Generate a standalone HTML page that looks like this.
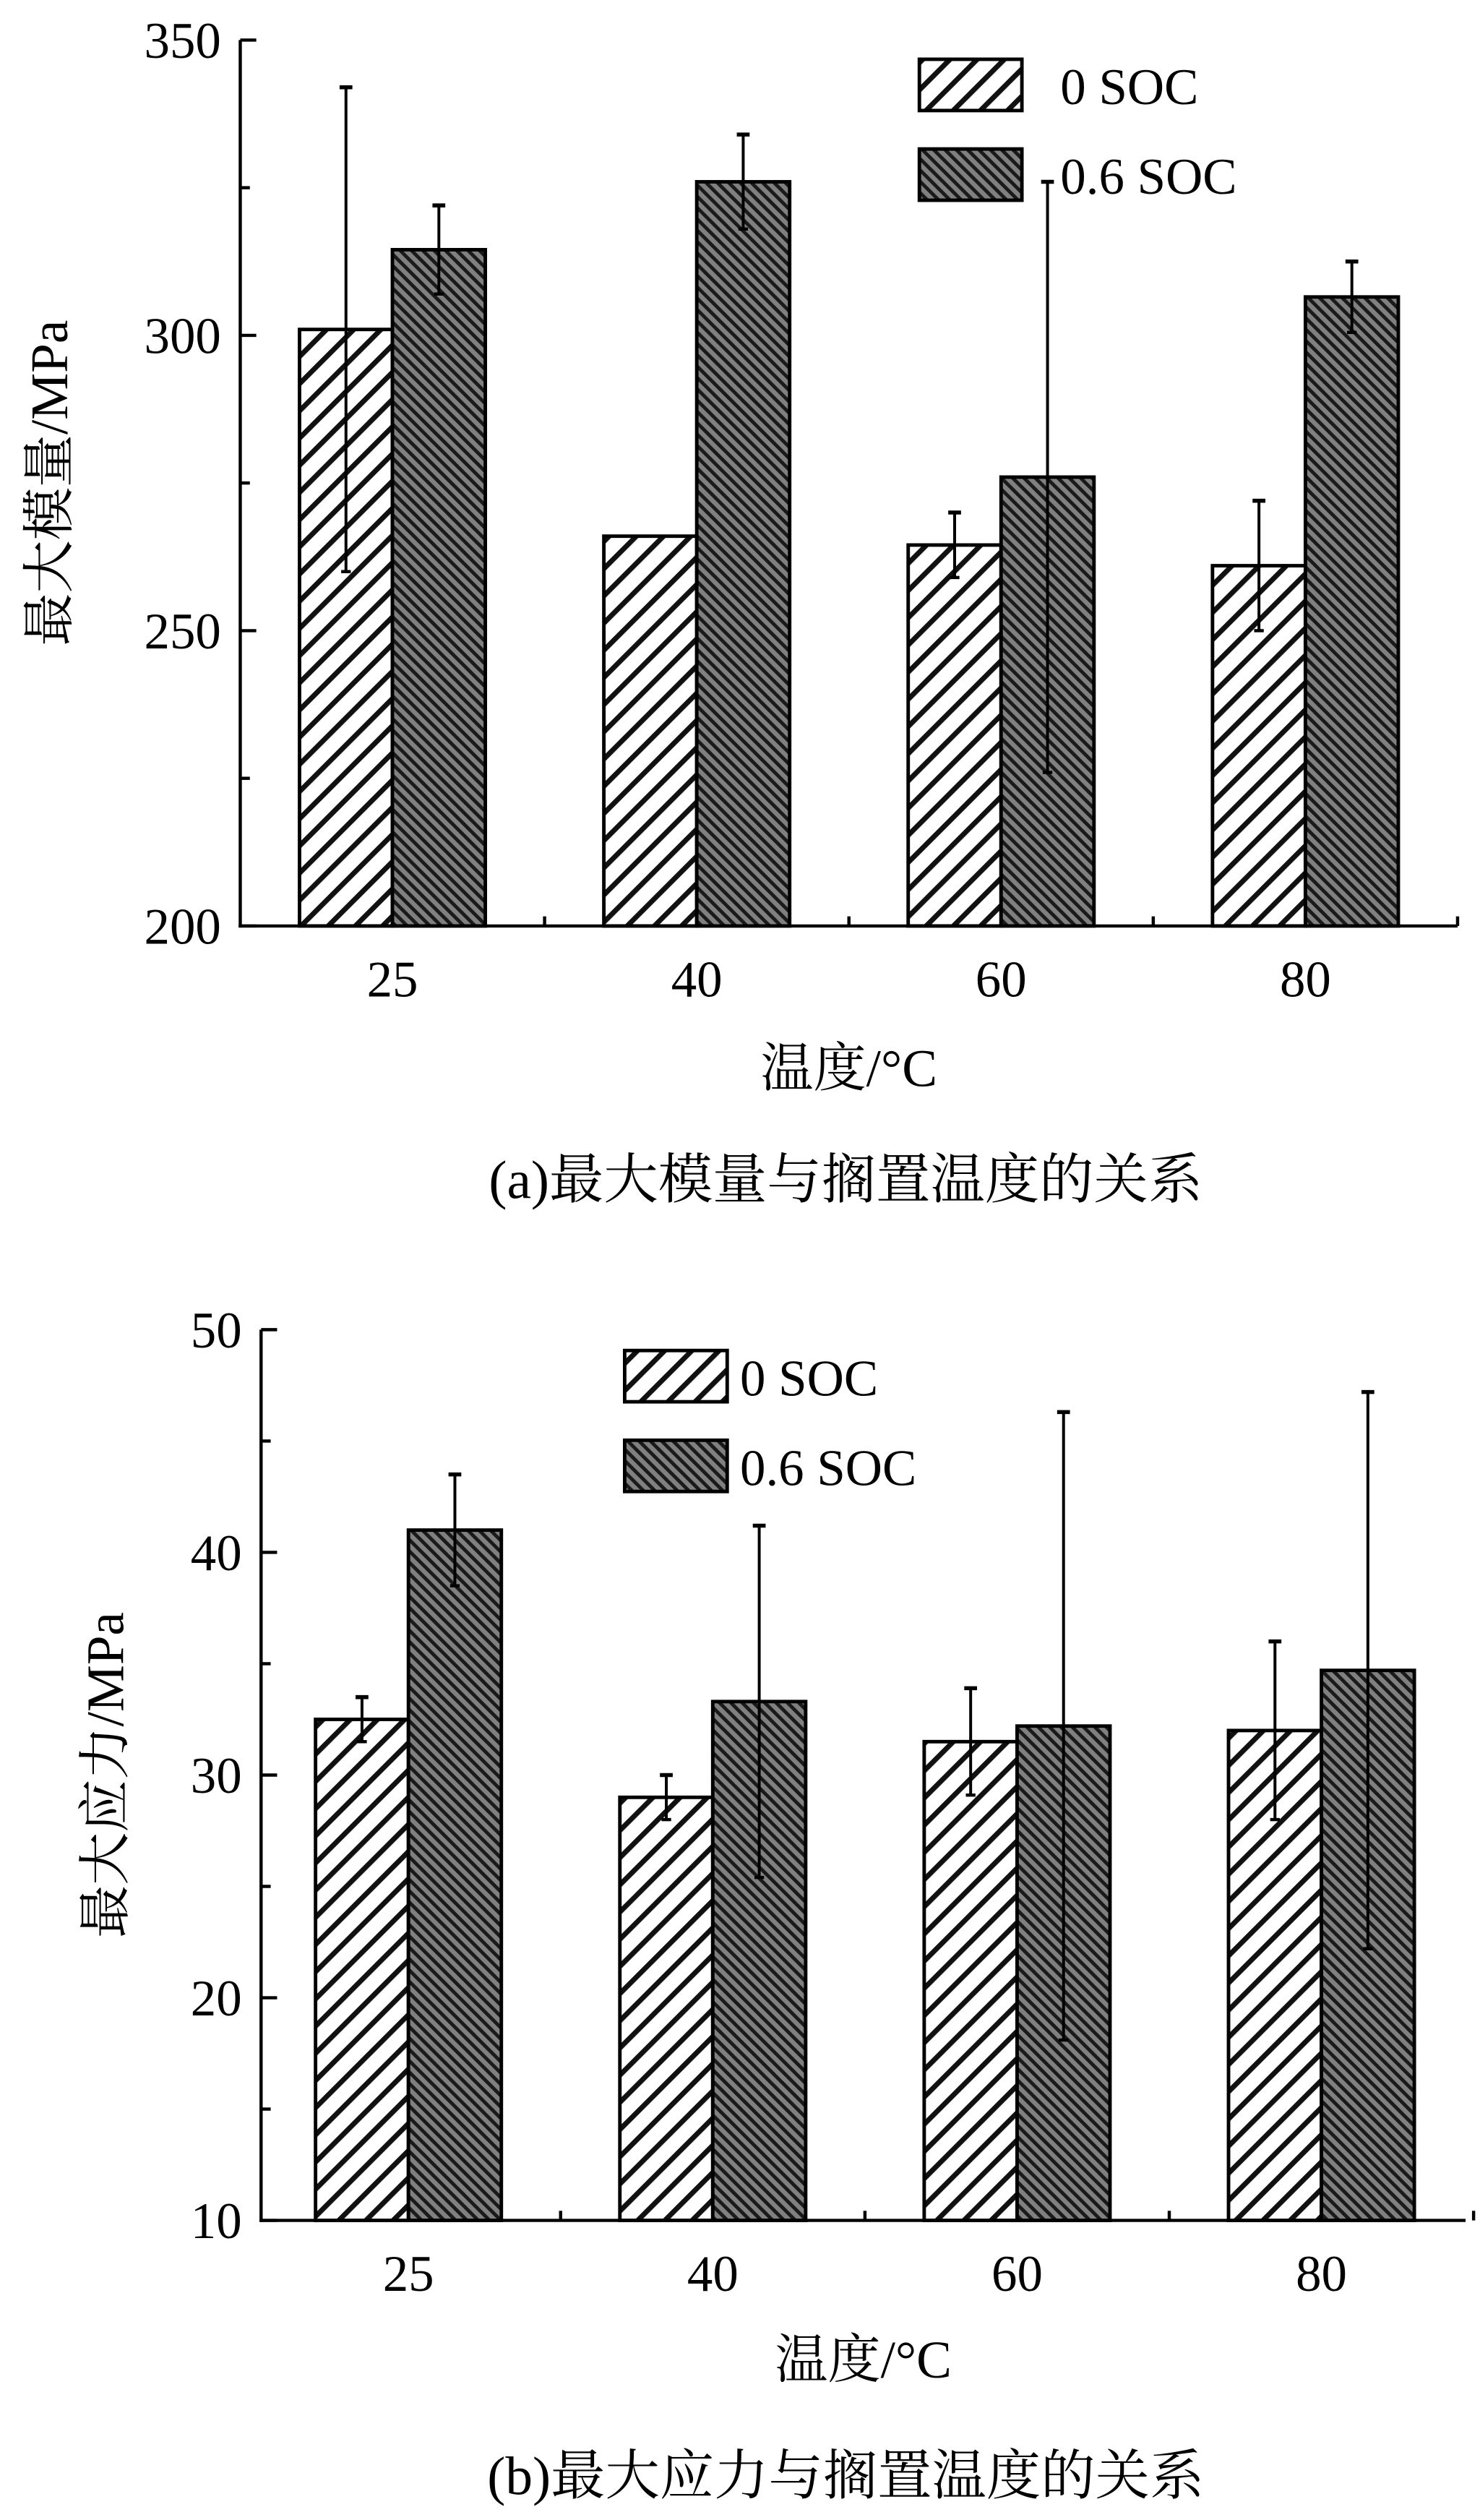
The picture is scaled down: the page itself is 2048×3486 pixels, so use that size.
<!DOCTYPE html>
<html><head><meta charset="utf-8"><style>
html,body{margin:0;padding:0;background:#fff}
svg{display:block}
text{font-family:"Liberation Serif","Noto Serif CJK SC",serif;fill:#000}
</style></head><body>
<svg id="fig" width="2048" height="3486" viewBox="0 0 924 1573" preserveAspectRatio="none" xmlns="http://www.w3.org/2000/svg">
<defs>
<pattern id="hatchW" patternUnits="userSpaceOnUse" width="12" height="12" patternTransform="rotate(45)">
<rect width="12" height="12" fill="#fff"/><rect x="0" y="0" width="3.2" height="12" fill="#111"/>
</pattern>
<pattern id="hatchD" patternUnits="userSpaceOnUse" width="5" height="5" patternTransform="rotate(-45)">
<rect width="5" height="5" fill="#808080"/><rect x="0" y="0" width="2.2" height="5" fill="#1a1a1a"/>
</pattern>
</defs>
<g id="chartA"></g>
<g id="chartB"></g>
</svg>
<script>
const categories = ["25","40","60","80"];
const aSoc0 = [301, 266, 264.5, 261];
const aSoc0Err = [41, 0, 5.5, 11];
const aSoc06 = [314.5, 326, 276, 306.5];
const aSoc06Err = [7.5, 8, 50, 6];
const aTicks = [200, 250, 300, 350];
const bSoc0 = [32.5, 29, 31.5, 32];
const bSoc0Err = [1, 1, 2.4, 4];
const bSoc06 = [41, 33.3, 32.2, 34.7];
const bSoc06Err = [2.5, 7.9, 14.1, 12.5];
const bTicks = [10, 20, 30, 40, 50];

const NS = "http://www.w3.org/2000/svg";
function mk(parent, tag, attrs, txt){
  const e = document.createElementNS(NS, tag);
  for (const k in attrs) e.setAttribute(k, attrs[k]);
  if (txt !== undefined) e.textContent = txt;
  parent.appendChild(e); return e;
}

function drawChart(g, cfg){
  const {x0, x1, yTop, yBot, vMin, vMax, ticks, minor, s0, e0, s1, e1, catX, bw, ylabel, caption, legX, legY, legTextX, capY, xtY, xlabY, ylabX} = cfg;
  const y = v => yBot - (v - vMin) / (vMax - vMin) * (yBot - yTop);
  categories.forEach((c, i) => {
    const cx = catX(i);
    const b0 = mk(g, "rect", {x: cx - bw, y: y(s0[i]), width: bw, height: yBot - y(s0[i]), fill: "url(#hatchW)", stroke: "#000", "stroke-width": 2.2});
    
    
    const b1 = mk(g, "rect", {x: cx, y: y(s1[i]), width: bw, height: yBot - y(s1[i]), fill: "url(#hatchD)", stroke: "#000", "stroke-width": 2.2});
    
    
    [[cx - bw/2, s0[i], e0[i], '0soc'], [cx + bw/2, s1[i], e1[i], '06soc']].forEach(([ex, v, e, n]) => {
      if (e <= 0) return;
      const eg = mk(g, "g", {stroke: "#000", "stroke-width": 1.8});
      
      
      mk(eg, "line", {x1: ex, x2: ex, y1: y(v + e), y2: y(v - e)});
      mk(eg, "line", {x1: ex - 4, x2: ex + 4, y1: y(v + e), y2: y(v + e), "stroke-width": 2.5});
      mk(eg, "line", {x1: ex - 3, x2: ex + 3, y1: y(v - e), y2: y(v - e), "stroke-width": 2});
    });
  });
  const ax = mk(g, "g", {stroke: "#000", "stroke-width": 2});
  
  
  mk(ax, "line", {x1: x0, x2: x0, y1: yTop, y2: yBot + 1});
  mk(ax, "line", {x1: x0 - 1, x2: x1, y1: yBot, y2: yBot});
  for (let v = vMin; v <= vMax + 1e-9; v += minor){
    const major = ticks.includes(v);
    mk(ax, "line", {x1: x0, x2: x0 + (major ? 10 : 6), y1: y(v), y2: y(v)});
  }
  categories.forEach((c, i) => {
    mk(ax, "line", {x1: catX(i) + 95, x2: catX(i) + 95, y1: yBot, y2: yBot - 6});
  });
  ticks.forEach(t => {
    const tl = mk(g, "text", {x: x0 - 12, y: y(t) + 11, "font-size": 32, "text-anchor": "end"}, String(t));
    
    
  });
  categories.forEach((c, i) => {
    const tl = mk(g, "text", {x: catX(i), y: xtY, "font-size": 32, "text-anchor": "middle"}, c);
    
    
  });
  const xl = mk(g, "text", {x: (x0 + x1) / 2, y: xlabY, "font-size": 33, "text-anchor": "middle"}, "温度/°C");
  
  
  const yl = mk(g, "text", {x: 0, y: 0, "font-size": 33, "text-anchor": "middle", transform: `translate(${ylabX},${(yTop + yBot) / 2}) rotate(-90)`}, ylabel);
  
  
  const cp = mk(g, "text", {x: 528, y: capY, "font-size": 34, "text-anchor": "middle"}, caption);
  
  
  [["url(#hatchW)", "0 SOC"], ["url(#hatchD)", "0.6 SOC"]].forEach(([f, t], k) => {
    const lg = mk(g, "g", {});
    
    
    mk(lg, "rect", {x: legX, y: legY + k * 56, width: 64, height: 32, fill: f, stroke: "#000", "stroke-width": 2.2});
    mk(lg, "text", {x: legTextX, y: legY + k * 56 + 28, "font-size": 32}, t);
  });
}

drawChart(document.getElementById("chartA"), {
  x0: 150, x1: 910, yTop: 25, yBot: 578, vMin: 200, vMax: 350, ticks: aTicks, minor: 25,
  s0: aSoc0, e0: aSoc0Err, s1: aSoc06, e1: aSoc06Err,
  catX: i => 245 + i * 190, bw: 58,
  ylabel: "最大模量/MPa", caption: "(a)最大模量与搁置温度的关系",
  legX: 574, legY: 37, legTextX: 662, capY: 748, xtY: 622, xlabY: 678, ylabX: 42
});
drawChart(document.getElementById("chartB"), {
  x0: 163, x1: 915, yTop: 830, yBot: 1386, vMin: 10, vMax: 50, ticks: bTicks, minor: 5,
  s0: bSoc0, e0: bSoc0Err, s1: bSoc06, e1: bSoc06Err,
  catX: i => 255 + i * 190, bw: 58,
  ylabel: "最大应力/MPa", caption: "(b)最大应力与搁置温度的关系",
  legX: 390, legY: 843, legTextX: 462, capY: 1557, xtY: 1430, xlabY: 1484, ylabX: 77
});
</script>
</body></html>
